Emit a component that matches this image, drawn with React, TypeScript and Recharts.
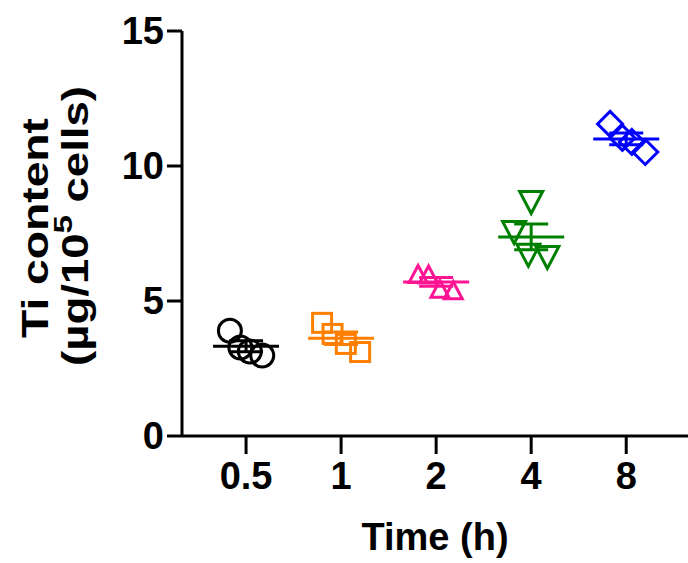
import { ScatterChart, Scatter, XAxis, YAxis, ErrorBar } from 'recharts';

const timeLabels = ['0.5', '1', '2', '4', '8'];
const colors = ['#000000', '#FF8000', '#FF1493', '#008000', '#0000FF'];

// Ti content per replicate (µg/10^5 cells)
const ti05h = [3.9, 3.28, 3.13, 2.98];
const ti1h = [4.19, 3.78, 3.41, 3.11];
const ti2h = [6.0, 5.98, 5.45, 5.4];
const ti4h = [8.65, 7.54, 6.69, 6.61];
const ti8h = [11.56, 11.04, 10.89, 10.52];
// horizontal scatter of each replicate around its time point (category units)
const jitter05h = [-0.17, -0.06, 0.04, 0.17];
const jitter1h = [-0.2, -0.09, 0.05, 0.2];
const jitter2h = [-0.19, -0.08, 0.04, 0.18];
const jitter4h = [0, -0.18, -0.03, 0.17];
const jitter8h = [-0.17, -0.04, 0.06, 0.2];

const yTicks = [0, 5, 10, 15];
const FONT = '"Liberation Sans", Arial, sans-serif';

const groups = [
  { values: ti05h, jitter: jitter05h },
  { values: ti1h, jitter: jitter1h },
  { values: ti2h, jitter: jitter2h },
  { values: ti4h, jitter: jitter4h },
  { values: ti8h, jitter: jitter8h },
];

const pointData = groups.map((g, gi) =>
  g.values.map((v, i) => ({ x: gi + g.jitter[i], y: v }))
);

const meanData = groups.map((g, gi) => {
  const n = g.values.length;
  const mean = g.values.reduce((s, v) => s + v, 0) / n;
  const sd = Math.sqrt(g.values.reduce((s, v) => s + (v - mean) ** 2, 0) / (n - 1));
  return [{ x: gi, y: mean, err: sd / Math.sqrt(n) }];
});

const markerShape = (kind: number, color: string) => (props: any) => {
  const { cx, cy } = props;
  const common = { fill: 'none', stroke: color, strokeWidth: 3 };
  if (kind === 0) return <circle cx={cx} cy={cy} r={11.5} {...common} />;
  if (kind === 1) return <rect x={cx - 9.5} y={cy - 9.5} width={19} height={19} {...common} />;
  if (kind === 2)
    return <polygon points={`${cx},${cy - 8.5} ${cx + 9},${cy + 8.5} ${cx - 9},${cy + 8.5}`} {...common} />;
  if (kind === 3)
    return <polygon points={`${cx - 11.5},${cy - 11} ${cx + 11.5},${cy - 11} ${cx},${cy + 11}`} {...common} />;
  return (
    <polygon
      points={`${cx},${cy - 12.5} ${cx + 12.5},${cy} ${cx},${cy + 12.5} ${cx - 12.5},${cy}`}
      {...common}
    />
  );
};

const meanShape = (color: string) => (props: any) => {
  const { cx, cy } = props;
  return <line x1={cx - 33} x2={cx + 33} y1={cy} y2={cy} stroke={color} strokeWidth={3} />;
};

const YLabel = () => (
  <g fontFamily={FONT} fontWeight="bold" fontSize={36} fill="#000">
    <text
      x={48}
      y={228}
      transform="rotate(-90, 48, 228)"
      textAnchor="middle"
      textLength={220}
      lengthAdjust="spacingAndGlyphs"
    >
      Ti content
    </text>
    <text
      x={88}
      y={226}
      transform="rotate(-90, 88, 226)"
      textAnchor="middle"
      textLength={280}
      lengthAdjust="spacingAndGlyphs"
    >
      (µg/10<tspan fontSize={26} dy={-16}>5</tspan>
      <tspan dy={16}> cells)</tspan>
    </text>
  </g>
);

export default function App() {
  return (
    <div style={{ position: 'absolute', left: 0, top: 0, background: '#fff' }}>
      <ScatterChart width={688} height={563} margin={{ top: 31, right: 0, bottom: 0, left: 0 }}>
        <XAxis
          type="number"
          dataKey="x"
          domain={[-0.674, 4.65]}
          ticks={[0, 1, 2, 3, 4]}
          tickFormatter={(v: number) => timeLabels[v]}
          allowDataOverflow
          height={127}
          axisLine={{ stroke: '#000', strokeWidth: 3 }}
          tickLine={{ stroke: '#000', strokeWidth: 3 }}
          tickSize={18}
          tickMargin={8}
          tick={{ fill: '#000', fontSize: 38, fontWeight: 'bold', fontFamily: FONT }}
          label={{
            value: 'Time (h)',
            position: 'insideBottom',
            offset: 13,
            fill: '#000',
            fontSize: 38,
            fontWeight: 'bold',
            fontFamily: FONT,
          }}
        />
        <YAxis
          type="number"
          dataKey="y"
          domain={[0, 15]}
          ticks={yTicks}
          width={182}
          axisLine={{ stroke: '#000', strokeWidth: 3 }}
          tickLine={{ stroke: '#000', strokeWidth: 3 }}
          tickSize={15}
          tickMargin={3}
          tick={{ fill: '#000', fontSize: 38, fontWeight: 'bold', fontFamily: FONT }}
          label={{ content: YLabel }}
        />
        {pointData.map((d, gi) => (
          <Scatter
            key={`pts-${gi}`}
            data={d}
            shape={markerShape(gi, colors[gi])}
            isAnimationActive={false}
          />
        ))}
        {meanData.map((d, gi) => (
          <Scatter
            key={`mean-${gi}`}
            data={d}
            shape={meanShape(colors[gi])}
            isAnimationActive={false}
          >
            <ErrorBar dataKey="err" direction="y" width={17} stroke={colors[gi]} strokeWidth={3} />
          </Scatter>
        ))}
      </ScatterChart>
    </div>
  );
}
